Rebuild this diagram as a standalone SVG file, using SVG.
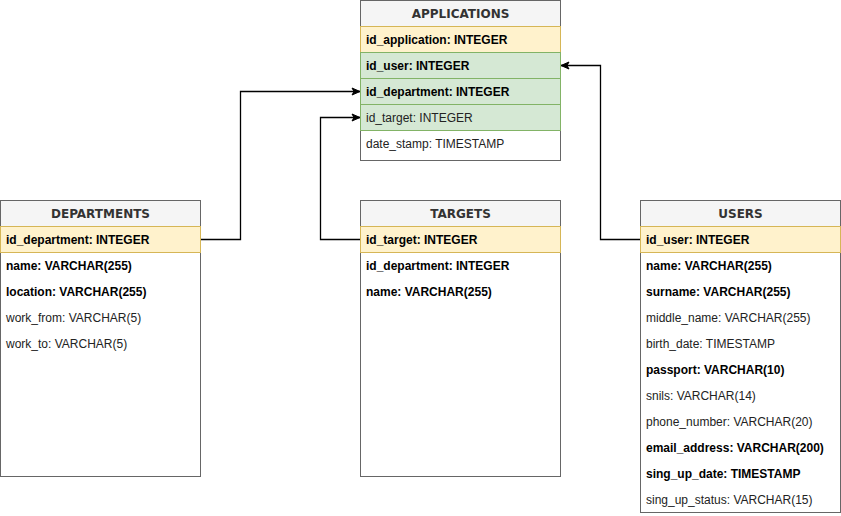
<svg xmlns="http://www.w3.org/2000/svg" width="841" height="516" viewBox="0 0 841 516">
<defs>
<marker id="arr" markerUnits="userSpaceOnUse" markerWidth="10" markerHeight="10" viewBox="0 0 10 10" refX="9" refY="5" orient="auto">
<path d="M1,1.5 L9,5 L1,8.5 L3,5 Z" fill="#000" stroke="#000" stroke-width="1"/>
</marker>
</defs>
<style>
.tbl{fill:#fff;stroke:#666;stroke-width:1}
.hdr{fill:#f5f5f5;stroke:#666;stroke-width:1}
.pk{fill:#fff2cc;stroke:#d6b656;stroke-width:1}
.fk{fill:#d5e8d4;stroke:#82b366;stroke-width:1}
.ttl{font-family:"DejaVu Sans",Verdana,sans-serif;font-size:12px;font-weight:bold;fill:#333;text-anchor:middle}
.t{font-family:"Liberation Sans",Arial,Helvetica,sans-serif;font-size:12px;fill:#222}
.b{font-weight:bold;fill:#000}
.conn{fill:none;stroke:#000;stroke-width:1.3}
</style>
<g id="connectors">
<path class="conn" d="M200.5,239.5 H240.5 V91.5 H360" marker-end="url(#arr)"/>
<path class="conn" d="M360.5,239.5 H320.5 V117.5 H360" marker-end="url(#arr)"/>
<path class="conn" d="M640.5,239.5 H600.5 V65.5 H561" marker-end="url(#arr)"/>
</g>
<g id="applications">
<rect class="tbl" x="360.5" y="0.5" width="200" height="160"/>
<rect class="hdr" x="360.5" y="0.5" width="200" height="26"/>
<text class="ttl" x="460.5" y="18">APPLICATIONS</text>
<rect class="pk" x="360.5" y="26.5" width="200" height="26"/>
<rect class="fk" x="360.5" y="52.5" width="200" height="26"/>
<rect class="fk" x="360.5" y="78.5" width="200" height="26"/>
<rect class="fk" x="360.5" y="104.5" width="200" height="26"/>
<text class="t b" x="366" y="44">id_application: INTEGER</text>
<text class="t b" x="366" y="70">id_user: INTEGER</text>
<text class="t b" x="366" y="96">id_department: INTEGER</text>
<text class="t" x="366" y="122">id_target: INTEGER</text>
<text class="t" x="366" y="148">date_stamp: TIMESTAMP</text>
</g>
<g id="departments">
<rect class="tbl" x="0.5" y="200.5" width="200" height="276"/>
<rect class="hdr" x="0.5" y="200.5" width="200" height="26"/>
<text class="ttl" x="100.5" y="218">DEPARTMENTS</text>
<rect class="pk" x="0.5" y="226.5" width="200" height="26"/>
<text class="t b" x="6" y="244">id_department: INTEGER</text>
<text class="t b" x="6" y="270">name: VARCHAR(255)</text>
<text class="t b" x="6" y="296">location: VARCHAR(255)</text>
<text class="t" x="6" y="322">work_from: VARCHAR(5)</text>
<text class="t" x="6" y="348">work_to: VARCHAR(5)</text>
</g>
<g id="targets">
<rect class="tbl" x="360.5" y="200.5" width="200" height="276"/>
<rect class="hdr" x="360.5" y="200.5" width="200" height="26"/>
<text class="ttl" x="460.5" y="218">TARGETS</text>
<rect class="pk" x="360.5" y="226.5" width="200" height="26"/>
<text class="t b" x="366" y="244">id_target: INTEGER</text>
<text class="t b" x="366" y="270">id_department: INTEGER</text>
<text class="t b" x="366" y="296">name: VARCHAR(255)</text>
</g>
<g id="users">
<rect class="tbl" x="640.5" y="200.5" width="200" height="312"/>
<rect class="hdr" x="640.5" y="200.5" width="200" height="26"/>
<text class="ttl" x="740.5" y="218">USERS</text>
<rect class="pk" x="640.5" y="226.5" width="200" height="26"/>
<text class="t b" x="646" y="244">id_user: INTEGER</text>
<text class="t b" x="646" y="270">name: VARCHAR(255)</text>
<text class="t b" x="646" y="296">surname: VARCHAR(255)</text>
<text class="t" x="646" y="322">middle_name: VARCHAR(255)</text>
<text class="t" x="646" y="348">birth_date: TIMESTAMP</text>
<text class="t b" x="646" y="374">passport: VARCHAR(10)</text>
<text class="t" x="646" y="400">snils: VARCHAR(14)</text>
<text class="t" x="646" y="426">phone_number: VARCHAR(20)</text>
<text class="t b" x="646" y="452">email_address: VARCHAR(200)</text>
<text class="t b" x="646" y="478">sing_up_date: TIMESTAMP</text>
<text class="t" x="646" y="504">sing_up_status: VARCHAR(15)</text>
</g>
</svg>
